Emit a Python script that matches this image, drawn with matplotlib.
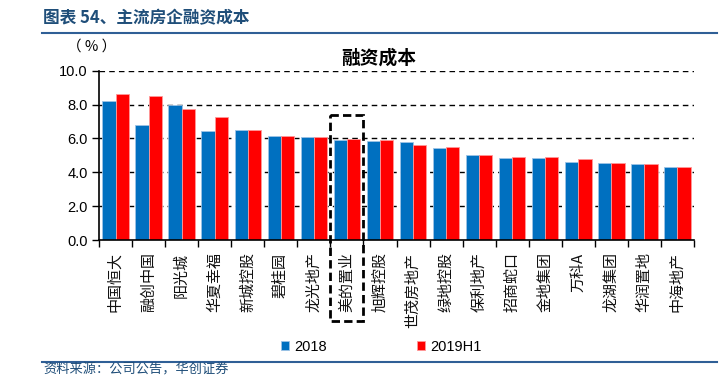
import matplotlib
matplotlib.use("Agg")
import matplotlib.pyplot as plt
import numpy as np
from matplotlib.patches import Rectangle
from matplotlib.lines import Line2D

plt.rcParams['font.family'] = ['Noto Sans CJK SC', 'DejaVu Sans']

companies = ["中国恒大", "融创中国", "阳光城", "华夏幸福", "新城控股", "碧桂园", "龙光地产",
             "美的置业", "旭辉控股", "世茂房地产", "绿地控股", "保利地产", "招商蛇口",
             "金地集团", "万科A", "龙湖集团", "华润置地", "中海地产"]
cost_2018 = [8.2, 6.8, 7.95, 6.44, 6.48, 6.12, 6.1, 5.93, 5.83, 5.81, 5.41, 5.04, 4.86,
             4.84, 4.61, 4.55, 4.49, 4.31]
cost_2019h1 = [8.62, 8.5, 7.72, 7.25, 6.48, 6.14, 6.1, 5.97, 5.91, 5.61, 5.51, 5.0, 4.9,
               4.88, 4.8, 4.55, 4.47, 4.29]
series_names = ["2018", "2019H1"]
yticks = [0, 2, 4, 6, 8, 10]
highlight = "美的置业"

W, H = 721, 377
fig = plt.figure(figsize=(W / 100, H / 100), dpi=100)

def fx(px):
    return px / W

def fy(py):
    return 1 - py / H

ax_l, ax_r, ax_t, ax_b = 99, 694, 70.7, 240
ax = fig.add_axes([fx(ax_l), fy(ax_b), fx(ax_r - ax_l), (ax_b - ax_t) / H])

x = np.arange(len(companies))
bw = 0.4
blue = "#0070C0"
red = "#FF0000"
ax.bar(x - bw / 2, cost_2018, width=bw, color=blue, edgecolor="#9DC3E6", linewidth=0.6,
       zorder=3, label=series_names[0])
ax.bar(x + bw / 2, cost_2019h1, width=bw, color=red, edgecolor="#FF9999", linewidth=0.6,
       zorder=3, label=series_names[1])

ax.set_xlim(-0.5, len(companies) - 0.5)
ax.set_ylim(0, 10)
ax.set_yticks(yticks)
ax.set_yticklabels([f"{v:.1f}" for v in yticks], family=['Liberation Sans'], fontsize=10.5)
for v in yticks[1:]:
    ax.axhline(v, color="black", linestyle=(0, (4, 3)), linewidth=1.0, zorder=1)

ax.set_xticks(np.arange(-0.5, len(companies), 1.0))
ax.set_xticklabels([])
ax.set_xticks(x, minor=True)
ax.set_xticklabels(companies, minor=True, rotation=90, va='top', ha='center', fontsize=10.8,
                   color="#111111")
ax.tick_params(axis='x', which='minor', length=0, pad=9)
ax.tick_params(axis='x', which='major', length=5, direction='out', width=1)
ax.tick_params(axis='y', length=5, direction='out', width=1, pad=3)

for s in ["top", "right"]:
    ax.spines[s].set_visible(False)
for s in ["left", "bottom"]:
    ax.spines[s].set_linewidth(1.2)
    ax.spines[s].set_zorder(4)

# highlight box around 美的置业
hi = companies.index(highlight)
box = Rectangle((hi - 0.5, 7.4), 1.0, -12.2, fill=False, edgecolor="black",
                linestyle=(0, (3, 1.5)), linewidth=2.0, clip_on=False, zorder=5)
ax.add_patch(box)

# chart title and unit
fig.text(fx(379), fy(58), "融资成本", ha='center', va='center', fontsize=13.5,
         fontweight='bold', color="black")
fig.text(fx(92), fy(47), "（ % ）", ha='center', va='center', fontsize=10.5, color="black")

# header
fig.text(fx(43), fy(18), "图表 54、主流房企融资成本", ha='left', va='center', fontsize=12,
         fontweight='bold', color="#1F4E79")
fig.add_artist(Line2D([fx(42), fx(717)], [fy(32.5), fy(32.5)], color="#2F5F96", linewidth=1.5))
fig.add_artist(Line2D([fx(42), fx(717)], [fy(361.5), fy(361.5)], color="#2F5F96", linewidth=1.5))
fig.text(fx(43), fy(376.5), "资料来源：公司公告，华创证券", ha='left', va='bottom', fontsize=9.5,
         color="#1F4E79")

# legend
leg = fig.legend(loc='center', bbox_to_anchor=(fx(381), fy(347)), ncol=2, frameon=False,
                 prop={'family': ['Liberation Sans'], 'size': 10.5}, handlelength=0.55,
                 handleheight=0.55, handletextpad=0.35, columnspacing=6.2)

fig.savefig("out.png", dpi=100)
